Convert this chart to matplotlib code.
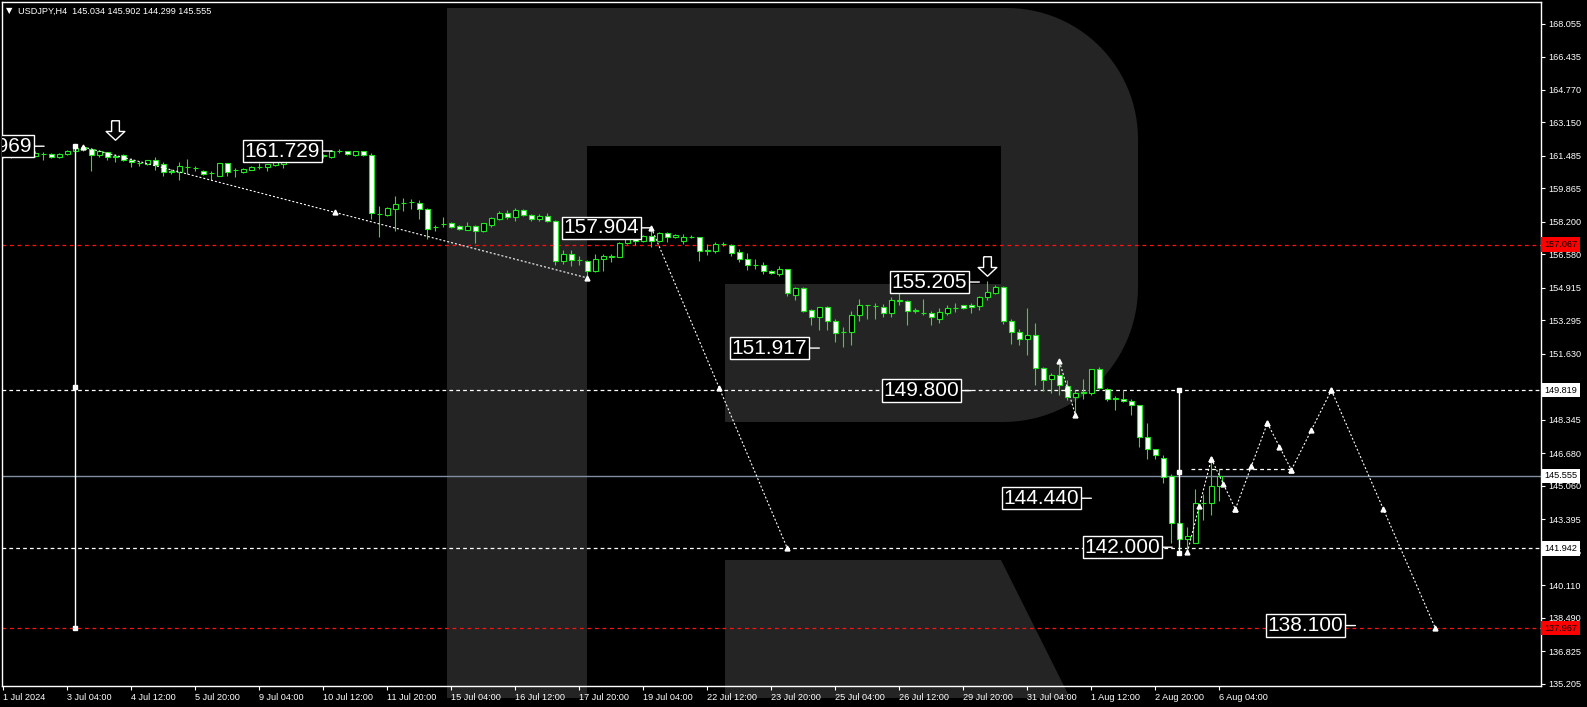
import numpy as np
import matplotlib
matplotlib.use('Agg')
import matplotlib.pyplot as plt
from matplotlib.path import Path

plt.rcParams['font.family'] = ['Liberation Sans', 'DejaVu Sans']

# USDJPY H4, 1 Jul - 6 Aug 2024
opens = [161.50, 161.48, 161.50, 161.66, 161.50, 161.60, 161.57, 161.43, 161.57, 161.73,
         161.92, 161.83, 161.53, 161.68, 161.45, 161.53, 161.30, 161.13, 161.10, 161.30,
         161.07, 160.70, 160.70, 160.93, 160.88, 160.73, 160.62, 160.50, 161.13, 160.77,
         160.70, 160.80, 160.93, 160.93, 161.03, 161.10, 161.33, 161.27, 161.47, 161.50,
         161.50, 161.43, 161.73, 161.73, 161.55, 161.72, 161.55, 158.60, 158.56, 158.86,
         159.12, 159.19, 159.12, 158.83, 157.93, 158.10, 158.13, 157.99, 157.80, 158.00,
         157.73, 158.06, 158.36, 158.63, 158.46, 158.79, 158.53, 158.36, 158.49, 158.23,
         156.24, 156.60, 156.30, 156.24, 155.74, 156.34, 156.47, 156.44, 157.13, 157.40,
         157.23, 157.50, 157.26, 157.66, 157.43, 157.26, 157.43, 157.43, 156.77, 156.77,
         157.10, 157.03, 156.70, 156.33, 156.04, 156.04, 155.77, 155.60, 155.84, 154.58,
         154.91, 153.81, 153.48, 153.95, 153.25, 152.72, 152.72, 153.55, 154.05, 154.00,
         153.95, 153.68, 154.28, 154.25, 153.78, 153.66, 153.65, 153.38, 153.68, 153.91,
         154.05, 154.05, 154.00, 154.45, 154.67, 154.94, 153.25, 152.72, 152.38, 152.55,
         150.92, 150.36, 150.56, 150.03, 149.46, 149.69, 149.69, 150.86, 149.89, 149.40,
         149.40, 149.27, 149.07, 147.47, 146.87, 146.44, 145.55, 143.19, 142.39, 142.22,
         144.19, 144.19, 145.034]
highs = [161.63, 161.60, 161.75, 161.73, 161.73, 161.68, 161.62, 161.62, 161.78, 161.97,
         161.97, 161.88, 161.78, 161.70, 161.60, 161.60, 161.37, 161.23, 161.30, 161.43,
         161.17, 160.83, 161.17, 161.33, 160.97, 160.80, 160.73, 161.15, 161.15, 160.87,
         160.88, 161.00, 161.13, 161.10, 161.20, 161.50, 161.40, 161.50, 161.57, 161.57,
         161.60, 161.78, 161.83, 161.75, 161.75, 161.75, 161.65, 158.99, 158.95, 159.49,
         159.39, 159.32, 159.29, 158.90, 158.06, 158.43, 158.20, 158.05, 158.19, 158.06,
         158.15, 158.42, 158.73, 158.79, 158.89, 158.83, 158.59, 158.60, 158.63, 158.29,
         156.80, 156.78, 156.50, 156.30, 156.60, 156.60, 156.60, 157.20, 157.40, 157.50,
         157.55, 157.99, 157.70, 157.72, 157.58, 157.58, 157.55, 157.45, 157.10, 157.20,
         157.20, 157.10, 156.83, 156.63, 156.35, 156.20, 155.80, 156.00, 155.85, 154.95,
         154.97, 153.85, 153.98, 154.00, 153.35, 152.98, 153.75, 154.34, 154.05, 154.15,
         154.11, 154.44, 154.74, 154.30, 153.91, 154.34, 153.78, 153.91, 154.05, 154.18,
         154.05, 154.15, 154.51, 155.24, 155.07, 155.00, 153.38, 152.85, 153.91, 153.18,
         150.99, 150.66, 151.26, 150.33, 149.83, 150.36, 150.89, 150.96, 149.92, 149.53,
         149.83, 149.36, 149.10, 148.17, 146.87, 146.57, 145.65, 144.02, 143.00, 144.88,
         144.65, 146.38, 145.902]
lows = [161.38, 161.38, 161.45, 161.57, 161.43, 161.27, 161.40, 161.38, 161.52, 161.70,
        161.75, 160.73, 161.45, 161.28, 161.16, 161.23, 160.93, 160.97, 161.05, 160.80,
        160.50, 160.57, 160.30, 160.60, 160.73, 160.52, 160.27, 160.48, 160.50, 160.43,
        160.65, 160.77, 160.83, 160.73, 160.98, 160.88, 161.23, 161.23, 161.37, 161.40,
        161.40, 161.37, 161.63, 161.55, 161.50, 161.50, 158.34, 157.43, 158.50, 157.73,
        158.76, 158.86, 158.33, 157.36, 157.76, 157.96, 157.90, 157.78, 157.78, 157.16,
        157.70, 157.96, 158.30, 158.36, 158.26, 158.50, 158.26, 158.26, 158.20, 156.07,
        156.10, 155.98, 156.07, 155.40, 155.70, 155.77, 156.20, 156.44, 157.10, 157.06,
        157.20, 156.97, 157.20, 157.20, 157.38, 157.10, 157.38, 156.27, 156.57, 156.65,
        157.00, 156.50, 156.20, 155.80, 155.84, 155.60, 155.60, 155.50, 154.51, 154.31,
        153.71, 153.08, 152.80, 152.80, 152.22, 151.95, 152.08, 153.25, 153.35, 153.38,
        153.45, 153.48, 154.05, 153.08, 153.65, 153.55, 153.05, 153.15, 153.58, 153.71,
        153.85, 153.65, 153.81, 154.31, 154.60, 153.11, 152.12, 152.08, 151.59, 150.06,
        149.76, 149.66, 149.59, 149.33, 148.50, 149.40, 149.59, 149.86, 149.30, 148.83,
        149.23, 148.60, 147.00, 146.41, 146.41, 145.18, 142.19, 141.70, 141.70, 142.19,
        143.35, 143.62, 144.299]
closes = [161.48, 161.50, 161.66, 161.66, 161.62, 161.57, 161.43, 161.57, 161.73, 161.89,
          161.82, 161.53, 161.73, 161.43, 161.50, 161.27, 161.17, 161.13, 161.27, 161.03,
          160.67, 160.70, 160.97, 160.93, 160.87, 160.60, 160.62, 161.13, 160.70, 160.77,
          160.83, 160.93, 160.93, 161.07, 161.17, 161.37, 161.33, 161.47, 161.47, 161.50,
          161.50, 161.73, 161.73, 161.57, 161.72, 161.52, 158.63, 158.60, 158.89, 159.09,
          159.12, 159.19, 158.83, 157.86, 157.93, 158.10, 157.96, 157.83, 158.00, 157.73,
          158.13, 158.39, 158.63, 158.46, 158.79, 158.53, 158.36, 158.49, 158.23, 156.24,
          156.60, 156.30, 156.30, 155.74, 156.34, 156.50, 156.47, 157.13, 157.36, 157.23,
          157.50, 157.26, 157.66, 157.43, 157.53, 157.43, 157.43, 156.77, 156.77, 157.10,
          157.10, 156.66, 156.33, 156.04, 156.04, 155.77, 155.64, 155.84, 154.64, 154.91,
          153.78, 153.48, 153.95, 153.25, 152.65, 152.72, 153.55, 154.05, 154.05, 154.00,
          153.68, 154.31, 154.28, 153.78, 153.78, 153.66, 153.45, 153.71, 153.91, 153.91,
          153.91, 153.95, 154.45, 154.71, 154.94, 153.25, 152.72, 152.38, 152.55, 150.92,
          150.33, 150.56, 150.06, 149.46, 149.69, 149.69, 150.86, 149.93, 149.36, 149.40,
          149.27, 149.07, 147.47, 146.87, 146.57, 145.51, 143.19, 142.39, 142.56, 144.19,
          144.19, 145.05, 145.555]

time_labels = ['1 Jul 2024', '3 Jul 04:00', '4 Jul 12:00', '5 Jul 20:00', '9 Jul 04:00',
               '10 Jul 12:00', '11 Jul 20:00', '15 Jul 04:00', '16 Jul 12:00', '17 Jul 20:00',
               '19 Jul 04:00', '22 Jul 12:00', '23 Jul 20:00', '25 Jul 04:00', '26 Jul 12:00',
               '29 Jul 20:00', '31 Jul 04:00', '1 Aug 12:00', '2 Aug 20:00', '6 Aug 04:00']
time_label_bars = list(range(0, 153, 8))

price_ticks = [168.055, 166.435, 164.770, 163.150, 161.485, 159.865, 158.200, 156.580,
               154.915, 153.295, 151.630, 149.965, 148.345, 146.680, 145.060, 143.395,
               141.775, 140.110, 138.490, 136.825, 135.205]
hidden_ticks = [149.965]  # covered by the 149.819 tag

# horizontal level lines
red_levels = [157.067, 137.967]
white_levels = [149.819, 141.942]
bid = 145.555

# annotation boxes: price and the bar its tick line points to
label_prices = [161.969, 161.729, 157.904, 155.205, 151.917, 149.800, 144.440, 142.000, 138.100]
label_bars = [5.1, 41.1, 81.0, 122.0, 102.0, 121.0, 136.0, 146.1, 169.0]

# dotted trend lines (start bar, start price, end bar, end price)
trend_lines = [(10, 161.93, 73, 155.41),
               (81, 157.904, 98, 141.942),
               (132, 151.25, 134, 148.60)]

# forecast zigzag
forecast_bars = [148, 151, 154, 158, 161, 166, 179]
forecast_prices = [141.75, 146.40, 143.90, 148.18, 145.85, 149.82, 137.967]

# vertical measuring lines (bar, low, high)
vert_lines = [(9, 137.967, 161.969), (147, 141.70, 149.819)]

# down arrows
arrow_bars = [14, 123]
arrow_prices = [162.80, 156.00]

GREEN = '#22e622'
WM = '#242424'
W, H = 1587, 707

fig = plt.figure(figsize=(W / 100, H / 100), dpi=100, facecolor='black')

# background with the watermark logo
bg = fig.add_axes([0, 0, 1, 1])
bg.set_xlim(0, W)
bg.set_ylim(H, 0)
bg.set_facecolor('black')
bg.set_xticks([])
bg.set_yticks([])
for s in bg.spines.values():
    s.set_visible(False)
t = np.linspace(np.pi / 2, 0, 30)
arc1 = np.column_stack([1007 + 131 * np.cos(t), 139 - 131 * np.sin(t)])
t = np.linspace(0, -np.pi / 2, 30)
arc2 = np.column_stack([1003 + 135 * np.cos(t), 287 - 135 * np.sin(t)])
r_shape = np.vstack([[[447, 8]], arc1, arc2,
                     [[725, 422], [725, 284], [1001, 284], [1001, 146],
                      [587, 146], [587, 698], [447, 698]]])
bg.add_patch(plt.Polygon(r_shape, closed=True, fc=WM, ec='none'))
bg.add_patch(plt.Polygon([[725, 560], [1001, 560], [1070, 698], [725, 698]],
                         closed=True, fc=WM, ec='none'))

ax = fig.add_axes([2 / W, 21 / H, 1539 / W, 684 / H])
ax.set_facecolor('none')
ax.set_xlim(-0.16, 192.2)
ax.set_ylim(135.09, 169.15)

# level lines
for p in red_levels:
    ax.axhline(p, color='#ff1010', lw=0.9, ls=(0, (3, 3)), zorder=1)
for p in white_levels:
    ax.axhline(p, color='white', lw=0.9, ls=(0, (3, 2.5)), zorder=1)
ax.axhline(bid, color='#8090a0', lw=1, zorder=1)
ax.hlines(highs[-1], 148.5, 161, color='white', lw=0.9, ls=(0, (3, 2.5)), zorder=1)

# candles
x = np.arange(len(opens))
o = np.array(opens)
c = np.array(closes)
ax.vlines(x, lows, highs, color=GREEN, lw=0.8, zorder=2)
body_low = np.minimum(o, c)
body_h = np.maximum(np.abs(c - o), 0.015)
fills = ['black' if cc >= oo else 'white' for oo, cc in zip(o, c)]
ax.bar(x, body_h, bottom=body_low, width=0.62, color=fills, edgecolor=GREEN,
       linewidth=0.8, zorder=3)

# dotted trend lines with handles
def dotted(x0, y0, x1, y1):
    ax.plot([x0, x1], [y0, y1], color='white', lw=0.8, ls=(0, (1.8, 1.8)), zorder=4)
    ax.plot([x0, (x0 + x1) / 2, x1], [y0, (y0 + y1) / 2, y1], ls='none', marker='^',
            ms=3.5, color='white', zorder=5)

for x0, y0, x1, y1 in trend_lines:
    dotted(x0, y0, x1, y1)
for k in range(len(forecast_bars) - 1):
    dotted(forecast_bars[k], forecast_prices[k], forecast_bars[k + 1], forecast_prices[k + 1])

for b, lo, hi in vert_lines:
    ax.vlines(b, lo, hi, color='white', lw=1, zorder=4)
    ax.plot([b, b, b], [lo, (lo + hi) / 2, hi], ls='none', marker='s', ms=3.5,
            color='white', zorder=5)

# hollow down arrows
arrow = Path([(-0.2, 0.5), (0.2, 0.5), (0.2, -0.05), (0.48, -0.05), (0, -0.5),
              (-0.48, -0.05), (-0.2, -0.05), (-0.2, 0.5)])
ax.plot(arrow_bars, arrow_prices, ls='none', marker=arrow, ms=14, mfc='black',
        mec='white', mew=1, zorder=6)

# boxed price labels
for p, b in zip(label_prices, label_bars):
    a = ax.annotate(f'{p:.3f}', xy=(b, p), xytext=(-12, 0), textcoords='offset pixels',
                    ha='right', va='center', color='white', fontsize=15,
                    bbox=dict(boxstyle='square,pad=0.08', fc='black', ec='white', lw=1),
                    arrowprops=dict(arrowstyle='-', color='white', lw=1, shrinkA=0, shrinkB=0),
                    zorder=7)
    a.set_clip_box(ax.bbox)

# axes styling
for s in ax.spines.values():
    s.set_color('white')
    s.set_linewidth(1)
ax.yaxis.tick_right()
ax.set_yticks(price_ticks)
ax.set_yticklabels(['' if p in hidden_ticks else f'{p:.3f}' for p in price_ticks])
ax.tick_params(axis='y', colors='white', labelsize=6.6, length=3, width=0.8, pad=2)
ax.set_xticks(time_label_bars)
ax.set_xticklabels(time_labels, ha='left')
ax.tick_params(axis='x', colors='white', labelsize=6.6, length=3, width=0.8, pad=2)

# price tags on the right scale
tags = [(157.067, '#ff0000'), (137.967, '#ff0000'), (149.819, 'white'),
        (141.942, 'white'), (bid, 'white')]
for p, col in tags:
    ax.text(1.0 + 3 / 1539, p, f'{p:.3f}', transform=ax.get_yaxis_transform(),
            ha='left', va='center', fontsize=6.6, color='black',
            bbox=dict(boxstyle='square,pad=0.3', fc=col, ec='none'), clip_on=False, zorder=8)

fig.text(6 / W, 1 - 11 / H, '\u25bc', color='white', fontsize=6, va='center',
         family=['DejaVu Sans'])
fig.text(18 / W, 1 - 11 / H, 'USDJPY,H4  145.034 145.902 144.299 145.555', color='white',
         fontsize=6.6, va='center')

fig.savefig('out.png', dpi=100, facecolor='black')
